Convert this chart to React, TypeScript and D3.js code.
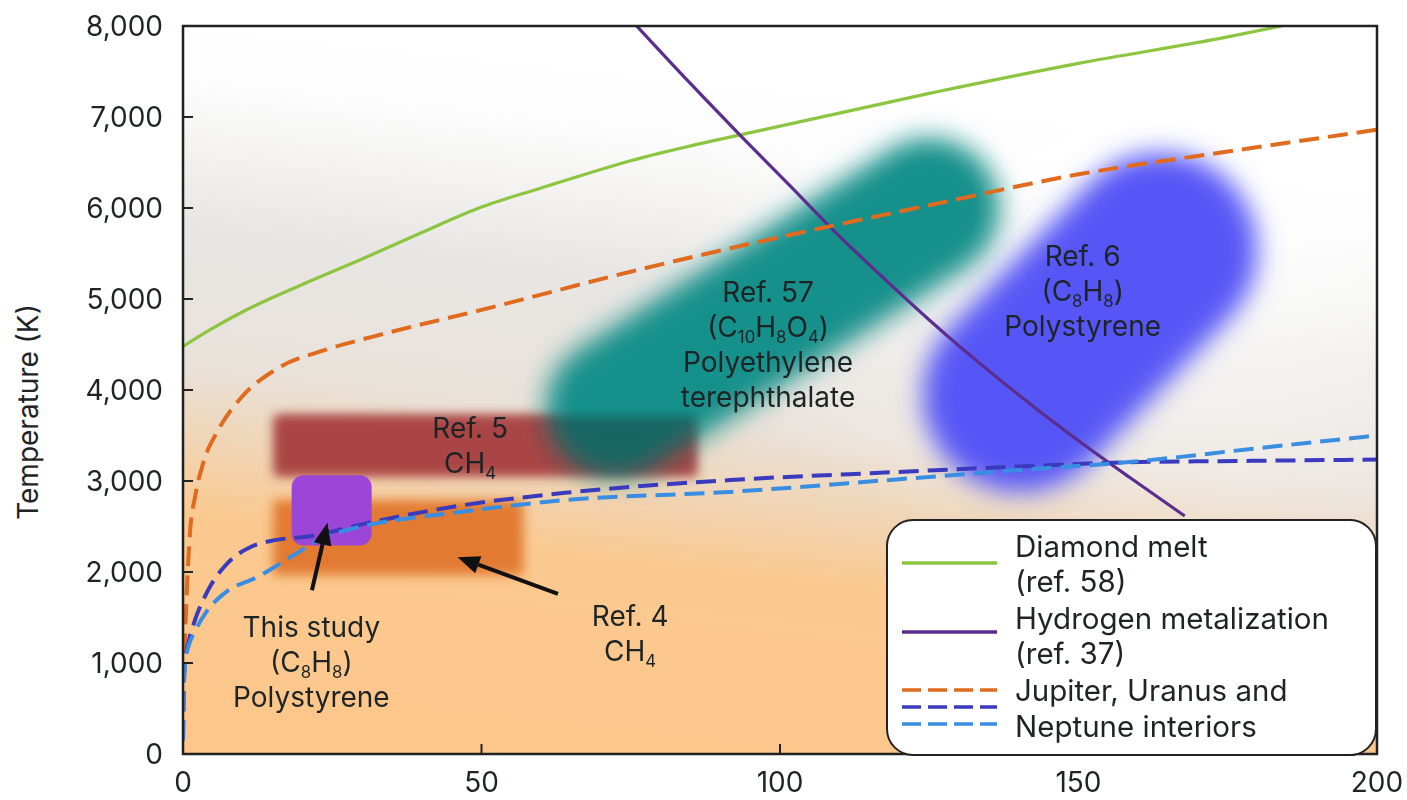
import React from "react";
import * as d3 from "d3";

// ---------- data ----------
const xTicks = [0, 50, 100, 150, 200];
const yTicks = [0, 1000, 2000, 3000, 4000, 5000, 6000, 7000, 8000];

// Pressure (GPa), Temperature (K)
const diamondMelt: [number, number][] = [
  [0, 4480], [5, 4680], [10, 4860], [20, 5160], [30, 5440], [40, 5730], [50, 6010],
  [60, 6220], [75, 6520], [100, 6900], [125, 7260], [150, 7590], [175, 7880], [184, 8000],
];
const hydrogenMetal: [number, number][] = [
  [76.0, 8000], [84.9, 7374], [93.3, 6802], [101.7, 6242], [108.4, 5791], [116.8, 5264],
  [125.1, 4764], [133.5, 4291], [141.9, 3846], [150.3, 3429], [158.6, 3038], [167.8, 2615],
];
const jupiter: [number, number][] = [
  [0, 150], [0.05, 650], [0.3, 1200], [0.6, 1730], [1.2, 2460], [2, 2820], [3.4, 3200],
  [5.9, 3560], [9.8, 3920], [15.4, 4220], [23.8, 4440], [32, 4590], [50, 4880],
  [75, 5300], [100, 5680], [125, 6030], [150, 6370], [175, 6620], [200, 6860],
];
const uranus: [number, number][] = [
  [0, 150], [0.1, 600], [0.33, 1000], [1, 1250], [2, 1470], [4.2, 1800], [7.5, 2100],
  [11.5, 2280], [15.4, 2350], [21, 2390], [31, 2540], [46.5, 2730], [64, 2870],
  [91.6, 3010], [120, 3100], [140, 3160], [158, 3205], [180, 3222], [200, 3235],
];
const neptune: [number, number][] = [
  [0, 150], [0.1, 600], [0.33, 1000], [1, 1200], [2, 1350], [4, 1570], [7, 1770],
  [12.6, 1950], [18.2, 2170], [23.8, 2390], [28, 2470], [46.5, 2660], [64, 2790],
  [91.6, 2880], [120, 3020], [140, 3120], [158, 3205], [180, 3360], [200, 3500],
];

// regions: [P0, P1, T0, T1]
const ref5Rect = [15.4, 85.9, 3066, 3716];
const ref4Rect = [15.1, 57.0, 1967, 2791];
const thisStudyRect = [18.2, 31.6, 2290, 3062];
// capsules: [Pstart, Tstart, Pend, Tend]
const ref57Capsule = [72.5, 3800, 125.0, 6000];
const ref6Capsule = [140.2, 3945, 163.7, 5538];

// arrows: [Ptail, Ttail, Phead, Thead]
const arrows = [
  [21.6, 1800, 24.2, 2540],
  [62.8, 1760, 46.0, 2163],
];

type Seg = { t: string; sub?: boolean };
type Label = { p: number; t: number; lines: Seg[][] };
const labels: Label[] = [
  { p: 48.1, t: 3396, lines: [[{ t: "Ref. 5" }], [{ t: "CH" }, { t: "4", sub: true }]] },
  {
    p: 21.5, t: 1011,
    lines: [
      [{ t: "This study" }],
      [{ t: "(C" }, { t: "8", sub: true }, { t: "H" }, { t: "8", sub: true }, { t: ")" }],
      [{ t: "Polystyrene" }],
    ],
  },
  { p: 74.9, t: 1330, lines: [[{ t: "Ref. 4" }], [{ t: "CH" }, { t: "4", sub: true }]] },
  {
    p: 98.0, t: 4505,
    lines: [
      [{ t: "Ref. 57" }],
      [{ t: "(C" }, { t: "10", sub: true }, { t: "H" }, { t: "8", sub: true }, { t: "O" }, { t: "4", sub: true }, { t: ")" }],
      [{ t: "Polyethylene" }],
      [{ t: "terephthalate" }],
    ],
  },
  {
    p: 150.7, t: 5088,
    lines: [
      [{ t: "Ref. 6" }],
      [{ t: "(C" }, { t: "8", sub: true }, { t: "H" }, { t: "8", sub: true }, { t: ")" }],
      [{ t: "Polystyrene" }],
    ],
  },
];

const legendText = [
  "Diamond melt",
  "(ref. 58)",
  "Hydrogen metalization",
  "(ref. 37)",
  "Jupiter, Uranus and",
  "Neptune interiors",
];

// ---------- layout ----------
const W = 1407;
const H = 800;
const L = 183, R = 1377, T = 26, B = 754;
const FONT = "Inter, 'Noto Sans', Roboto, sans-serif";
const TXT = "#1e2426";

const C = {
  green: "#8cc53f",
  purple: "#5c2d8e",
  orange: "#e06a1e",
  dblue: "#3a3abf",
  lblue: "#3a8ee2",
  teal: "#17908b",
  blue: "#5656f6",
  red: "#aa4444",
  rect4: "#e27a30",
  study: "#9b46d8",
};

export default function App() {
  const x = d3.scaleLinear().domain([0, 200]).range([L, R]);
  const y = d3.scaleLinear().domain([0, 8000]).range([B, T]);
  const line = d3
    .line<[number, number]>()
    .x((d) => x(d[0]))
    .y((d) => y(d[1]))
    .curve(d3.curveMonotoneX);

  const rect = (r: number[]) => ({
    x: x(r[0]),
    y: y(r[3]),
    width: x(r[1]) - x(r[0]),
    height: y(r[2]) - y(r[3]),
  });

  const fs = 28;
  const lineH = 35;
  const subDy = 6;

  const renderLabel = (lb: Label, i: number) => {
    const cx = x(lb.p);
    const cy = y(lb.t);
    const n = lb.lines.length;
    return (
      <text key={i} x={cx} textAnchor="middle" fontSize={fs} fill={TXT} fontFamily={FONT}>
        {lb.lines.map((segs, li) => (
          <tspan key={li} x={cx} y={cy + (li - (n - 1) / 2) * lineH + fs * 0.36}>
            {segs.map((s, si) =>
              s.sub ? (
                <tspan key={si} fontSize={fs * 0.6} dy={subDy}>
                  {s.t}
                </tspan>
              ) : (
                <tspan key={si} dy={si > 0 && segs[si - 1].sub ? -subDy : 0}>
                  {s.t}
                </tspan>
              )
            )}
          </tspan>
        ))}
      </text>
    );
  };

  const legendLines = [
    { y: 563, color: C.green, dash: undefined },
    { y: 632, color: C.purple, dash: undefined },
    { y: 690, color: C.orange, dash: "19 7" },
    { y: 707, color: C.dblue, dash: "19 7" },
    { y: 724, color: C.lblue, dash: "19 7" },
  ];
  const legendTextY = [547, 582, 619, 654, 691, 727];

  return (
    <div style={{ position: "absolute", left: 0, top: 0 }}>
      <svg width={W} height={H} style={{ display: "block", background: "#fff" }}>
        <defs>
          <linearGradient id="bg" x1="0.18" y1="0" x2="0" y2="1">
            <stop offset="0" stopColor="#ffffff" />
            <stop offset="0.1" stopColor="#fdfdfd" />
            <stop offset="0.3" stopColor="#e8e6e4" />
            <stop offset="0.48" stopColor="#e9e2da" />
            <stop offset="0.58" stopColor="#f0d5b6" />
            <stop offset="0.68" stopColor="#fbc990" />
            <stop offset="1" stopColor="#fdc68a" />
          </linearGradient>
          <radialGradient id="hl" cx="0.85" cy="0.3" r="0.45">
            <stop offset="0" stopColor="#ffffff" stopOpacity="0.85" />
            <stop offset="1" stopColor="#ffffff" stopOpacity="0" />
          </radialGradient>
          <filter id="blurBig" filterUnits="userSpaceOnUse" x={0} y={0} width={W} height={H}>
            <feGaussianBlur stdDeviation="13" />
          </filter>
          <filter id="blurRect" filterUnits="userSpaceOnUse" x={0} y={0} width={W} height={H}>
            <feGaussianBlur stdDeviation="5.5" />
          </filter>
          <clipPath id="plot">
            <rect x={L} y={T} width={R - L} height={B - T} />
          </clipPath>
        </defs>

        {/* background */}
        <rect x={L} y={T} width={R - L} height={B - T} fill="url(#bg)" />
        <rect x={L} y={T} width={R - L} height={B - T} fill="url(#hl)" />

        <g clipPath="url(#plot)">
          {/* Ref. 5 red rect (base) */}
          <rect {...rect(ref5Rect)} fill={C.red} filter="url(#blurRect)" />
          {/* Ref. 57 teal capsule */}
          <line
            x1={x(ref57Capsule[0])} y1={y(ref57Capsule[1])}
            x2={x(ref57Capsule[2])} y2={y(ref57Capsule[3])}
            stroke={C.teal} strokeWidth={140} strokeLinecap="round"
            filter="url(#blurBig)"
          />
          {/* Ref. 5 red rect, darkening where it meets the teal region */}
          <rect {...rect(ref5Rect)} fill={C.red} opacity={0.55}
            style={{ mixBlendMode: "darken" }} filter="url(#blurRect)" />
          {/* Ref. 4 orange rect */}
          <rect {...rect(ref4Rect)} fill={C.rect4} filter="url(#blurRect)" />
          {/* Ref. 6 blue capsule */}
          <line
            x1={x(ref6Capsule[0])} y1={y(ref6Capsule[1])}
            x2={x(ref6Capsule[2])} y2={y(ref6Capsule[3])}
            stroke={C.blue} strokeWidth={194} strokeLinecap="round"
            filter="url(#blurBig)"
          />
          {/* This study */}
          <rect {...rect(thisStudyRect)} rx={12} fill={C.study} />

          {/* curves */}
          <path d={line(diamondMelt) || ""} fill="none" stroke={C.green} strokeWidth={3.2} />
          <path d={line(hydrogenMetal) || ""} fill="none" stroke={C.purple} strokeWidth={3.2} />
          <path d={line(jupiter) || ""} fill="none" stroke={C.orange} strokeWidth={4} strokeDasharray="20 9" />
          <path d={line(uranus) || ""} fill="none" stroke={C.dblue} strokeWidth={4} strokeDasharray="20 9" />
          <path d={line(neptune) || ""} fill="none" stroke={C.lblue} strokeWidth={4} strokeDasharray="20 9" />
        </g>

        {/* arrows */}
        {arrows.map((a, i) => {
          const x1 = x(a[0]), y1 = y(a[1]), x2 = x(a[2]), y2 = y(a[3]);
          const ang = Math.atan2(y2 - y1, x2 - x1);
          const hl = 22, hw = 9;
          const bx = x2 - hl * Math.cos(ang), by = y2 - hl * Math.sin(ang);
          const px = -Math.sin(ang), py = Math.cos(ang);
          return (
            <g key={i}>
              <line x1={x1} y1={y1} x2={bx} y2={by} stroke="#111" strokeWidth={4} />
              <polygon
                points={`${x2},${y2} ${bx + px * hw},${by + py * hw} ${bx - px * hw},${by - py * hw}`}
                fill="#111"
              />
            </g>
          );
        })}

        {/* labels */}
        {labels.map(renderLabel)}

        {/* frame */}
        <rect x={L} y={T} width={R - L} height={B - T} fill="none" stroke="#222" strokeWidth={2.5} />

        {/* ticks */}
        {yTicks.map((v) => (
          <g key={"y" + v}>
            <line x1={L} x2={L + 10} y1={y(v)} y2={y(v)} stroke="#222" strokeWidth={2} />
            <text x={L - 20} y={y(v) + 10} textAnchor="end" fontSize={28} fill={TXT} fontFamily={FONT}>
              {d3.format(",")(v)}
            </text>
          </g>
        ))}
        {xTicks.map((v) => (
          <g key={"x" + v}>
            <line x1={x(v)} x2={x(v)} y1={B} y2={B - 10} stroke="#222" strokeWidth={2} />
            <text x={x(v)} y={B + 38} textAnchor="middle" fontSize={28} fill={TXT} fontFamily={FONT}>
              {v}
            </text>
          </g>
        ))}
        <text
          transform={`translate(38, ${(T + B) / 2 + 22}) rotate(-90)`}
          textAnchor="middle" fontSize={28} fill={TXT} fontFamily={FONT}
        >
          Temperature (K)
        </text>

        {/* legend */}
        <rect x={887} y={520} width={489} height={235} rx={26} fill="#fff" stroke="#222" strokeWidth={2} />
        {legendLines.map((l, i) => (
          <line key={i} x1={902} x2={997} y1={l.y} y2={l.y} stroke={l.color} strokeWidth={3.5}
            strokeDasharray={l.dash} />
        ))}
        {legendText.map((t, i) => (
          <text key={i} x={1015} y={legendTextY[i] + 10} fontSize={29.5} fill={TXT} fontFamily={FONT}>
            {t}
          </text>
        ))}
      </svg>
    </div>
  );
}
